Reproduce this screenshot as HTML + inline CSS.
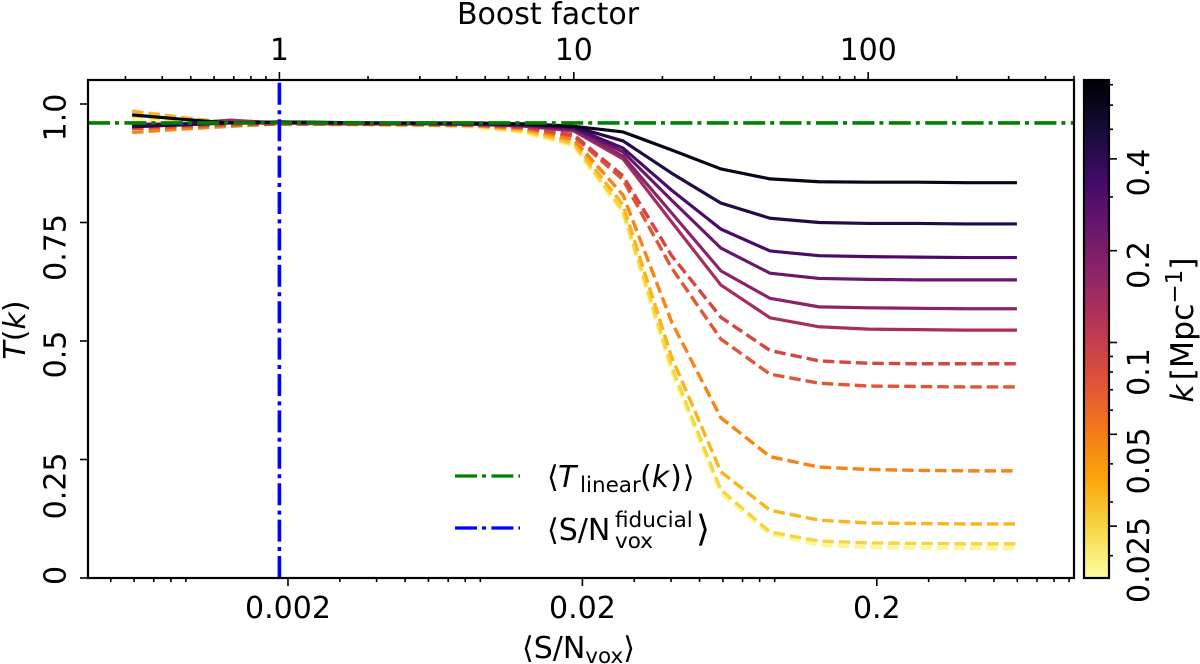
<!DOCTYPE html>
<html>
<head>
<meta charset="utf-8">
<style>
html,body{margin:0;padding:0;background:#fff;}
svg{display:block;}
text{font-family:"DejaVu Sans","Liberation Sans",sans-serif;font-size:30px;fill:#000;}
.it{font-style:italic;}
.sub{font-size:21.5px;}
</style>
</head>
<body>
<svg id="chart" xmlns="http://www.w3.org/2000/svg" width="1200" height="664" viewBox="0 0 1200 664">
  <defs>
    <linearGradient id="inferno-r" x1="0" y1="0" x2="0" y2="1">
      <stop offset="0" stop-color="#000004"/><stop offset="0.1" stop-color="#160b39"/>
      <stop offset="0.2" stop-color="#420a68"/><stop offset="0.3" stop-color="#6a176e"/>
      <stop offset="0.4" stop-color="#932667"/><stop offset="0.5" stop-color="#bc3754"/>
      <stop offset="0.6" stop-color="#dd513a"/><stop offset="0.7" stop-color="#f37819"/>
      <stop offset="0.8" stop-color="#fca50a"/><stop offset="0.9" stop-color="#f6d746"/>
      <stop offset="1" stop-color="#fcffa4"/>
    </linearGradient>
    <clipPath id="plot-clip"><rect x="88" y="80" width="986" height="498"/></clipPath>
  </defs>

  <g id="series-layer" clip-path="url(#plot-clip)"></g>
  <g id="reference-layer" clip-path="url(#plot-clip)"></g>
  <g id="tick-layer"></g>

  <rect x="88" y="80" width="986" height="498" fill="none" stroke="#000" stroke-width="2.2"/>

  <!-- top axis -->
  <text x="548" y="24" text-anchor="middle">Boost factor</text>
  <text x="279.4" y="60" text-anchor="middle">1</text>
  <text x="573.8" y="60" text-anchor="middle">10</text>
  <text x="868.2" y="60" text-anchor="middle">100</text>

  <!-- bottom axis -->
  <text x="288" y="618" text-anchor="middle">0.002</text>
  <text x="582.4" y="618" text-anchor="middle">0.02</text>
  <text x="876.8" y="618" text-anchor="middle">0.2</text>
  <text x="522" y="658">⟨S/N<tspan class="sub" dy="5">vox</tspan><tspan dy="-5">⟩</tspan></text>

  <!-- y axis -->
  <text transform="translate(65.5,117.5) rotate(-90)" text-anchor="middle">1.0</text>
  <text transform="translate(65.5,247.5) rotate(-90)" text-anchor="middle">0.75</text>
  <text transform="translate(65.5,354.5) rotate(-90)" text-anchor="middle">0.5</text>
  <text transform="translate(65.5,486) rotate(-90)" text-anchor="middle">0.25</text>
  <text transform="translate(65.5,575.5) rotate(-90)" text-anchor="middle">0</text>
  <text transform="translate(25,330) rotate(-90)" text-anchor="middle"><tspan class="it">T</tspan>(<tspan class="it">k</tspan>)</text>

  <!-- legend -->
  <g>
    <line x1="455" x2="520" y1="476" y2="476" stroke="#008000" stroke-width="3.2" stroke-dasharray="22,5,4,5.4"/>
    <text x="547" y="487">⟨<tspan class="it" x="558">T</tspan><tspan class="sub" x="580" y="492">linear</tspan><tspan x="640" y="487">(</tspan><tspan class="it">k</tspan><tspan dx="1">)</tspan><tspan dx="1">⟩</tspan></text>
    <line x1="455" x2="520" y1="528" y2="528" stroke="#0000ff" stroke-width="3.2" stroke-dasharray="22,5,4,5.4"/>
    <text x="547" y="540">⟨S/N<tspan class="sub" x="615" y="527">fiducial</tspan><tspan class="sub" x="615" y="548">vox</tspan><tspan x="696" y="541" style="font-size:36px">⟩</tspan></text>
  </g>

  <!-- colorbar -->
  <g>
    <rect x="1084" y="80" width="25" height="498" fill="url(#inferno-r)" stroke="#000" stroke-width="2.2"/>
    <text transform="translate(1149,172.5) rotate(-90)" text-anchor="middle">0.4</text>
    <text transform="translate(1149,265) rotate(-90)" text-anchor="middle">0.2</text>
    <text transform="translate(1149,372) rotate(-90)" text-anchor="middle">0.1</text>
    <text transform="translate(1149,461) rotate(-90)" text-anchor="middle">0.05</text>
    <text transform="translate(1149,560) rotate(-90)" text-anchor="middle">0.025</text>
    <text transform="translate(1193,330) rotate(-90)" text-anchor="middle" style="font-size:31.5px"><tspan class="it">k</tspan><tspan dx="4">[Mpc</tspan><tspan style="font-size:23px" dy="-11">−1</tspan><tspan dy="11">]</tspan></text>
  </g>
</svg>

<script>
// Data
var boostValues = [0.316,0.464,0.681,1,1.47,2.15,3.16,4.64,6.81,10,14.7,21.5,31.6,46.4,68.1,100,147,215,320];
var seriesK = [0.018,0.025,0.032,0.047,0.072,0.088,0.135,0.175,0.235,0.32,0.45,0.62];
var seriesDashed = [true,true,true,true,true,true,false,false,false,false,false,false];
var seriesWidths = [4.2,3.4,3.4,3.4,3.4,3.4,3.2,3.2,3.2,3.2,3.2,3.2];
var tPale    = [0.965,0.962,0.958,0.958,0.957,0.956,0.955,0.952,0.94,0.912,0.77,0.435,0.179,0.093,0.07,0.065,0.064,0.063,0.063];
var tYellow  = [0.975,0.966,0.958,0.958,0.957,0.956,0.955,0.953,0.942,0.915,0.774,0.445,0.186,0.097,0.078,0.074,0.073,0.072,0.072];
var tAmber   = [0.985,0.972,0.96,0.958,0.958,0.957,0.956,0.954,0.945,0.92,0.787,0.466,0.224,0.143,0.122,0.116,0.115,0.114,0.114];
var tOrange  = [0.94,0.947,0.953,0.958,0.958,0.957,0.956,0.955,0.948,0.925,0.808,0.54,0.338,0.256,0.234,0.229,0.227,0.226,0.226];
var tRedOr   = [0.948,0.952,0.956,0.958,0.958,0.957,0.957,0.955,0.95,0.932,0.84,0.654,0.504,0.43,0.411,0.405,0.404,0.403,0.403];
var tRed     = [0.952,0.954,0.958,0.958,0.958,0.958,0.957,0.956,0.951,0.935,0.848,0.68,0.55,0.48,0.458,0.453,0.452,0.452,0.452];
var tCrimson = [0.957,0.958,0.966,0.96,0.958,0.958,0.958,0.957,0.953,0.943,0.884,0.751,0.618,0.549,0.53,0.525,0.524,0.523,0.523];
var tMagenta = [0.957,0.958,0.962,0.96,0.959,0.958,0.958,0.957,0.954,0.945,0.89,0.77,0.648,0.59,0.572,0.57,0.569,0.568,0.568];
var tPurple  = [0.957,0.958,0.96,0.961,0.96,0.959,0.958,0.958,0.955,0.948,0.899,0.797,0.696,0.643,0.632,0.63,0.629,0.629,0.629];
var tViolet  = [0.955,0.957,0.96,0.961,0.96,0.96,0.959,0.958,0.956,0.95,0.907,0.818,0.736,0.69,0.68,0.678,0.677,0.676,0.676];
var tNavy    = [0.952,0.956,0.96,0.962,0.961,0.96,0.96,0.959,0.957,0.952,0.922,0.854,0.791,0.759,0.75,0.748,0.748,0.747,0.747];
var tBlack   = [0.977,0.968,0.96,0.962,0.961,0.96,0.96,0.96,0.958,0.953,0.941,0.903,0.863,0.842,0.836,0.835,0.835,0.834,0.834];
var seriesValues = [tPale,tYellow,tAmber,tOrange,tRedOr,tRed,tCrimson,tMagenta,tPurple,tViolet,tNavy,tBlack];
var seriesIds = ['pale','yellow','amber','orange','red-orange','red','crimson','magenta','purple','violet','navy','black'];
var linearT = [0.96];
var fiducialBoost = [1];
var yTicks = [0,0.25,0.5,0.75,1];
var topMajorTicks = [1,10,100];
var topMinorTicks = [0.3,0.4,0.5,0.6,0.7,0.8,0.9,2,3,4,5,6,7,8,9,20,30,40,50,60,70,80,90,200,300,400,500];
var bottomMajorTicks = [0.002,0.02,0.2];
var bottomMinorTicks = [0.0005,0.0006,0.0007,0.0008,0.0009,0.003,0.004,0.005,0.006,0.007,0.008,0.009,0.03,0.04,0.05,0.06,0.07,0.08,0.09,0.3,0.4,0.5,0.6,0.7,0.8,0.9];
var colorbarMajorTicks = [0.025,0.05,0.1,0.2,0.4];
var colorbarMinorTicks = [0.02,0.03,0.04,0.06,0.07,0.08,0.09,0.3,0.5,0.6,0.7];
var infernoStops = ['#000004','#160b39','#420a68','#6a176e','#932667','#bc3754','#dd513a','#f37819','#fca50a','#f6d746','#fcffa4'];

// Axis functions
function xTop(b){ return 279.4 + 294.4 * Math.log10(b); }
function xBottom(v){ return 288 + 294.4 * Math.log10(v / 0.002); }
function yT(t){ return 578 - 474 * t; }
function yK(k){ return 342.5 - 305.0 * Math.log10(k / 0.1); }
function colorForK(k){
  var f = (yK(k) - 80) / 498;
  f = Math.max(0, Math.min(1, f));
  var p = f * (infernoStops.length - 1);
  var i = Math.min(Math.floor(p), infernoStops.length - 2);
  var u = p - i;
  var a = infernoStops[i], b = infernoStops[i + 1];
  var out = [1, 3, 5].map(function (s) {
    var ca = parseInt(a.substr(s, 2), 16), cb = parseInt(b.substr(s, 2), 16);
    return Math.round(ca + (cb - ca) * u);
  });
  return 'rgb(' + out.join(',') + ')';
}

var NS = 'http://www.w3.org/2000/svg';
var seriesLayer = document.getElementById('series-layer');
var referenceLayer = document.getElementById('reference-layer');
var tickLayer = document.getElementById('tick-layer');

seriesValues.forEach(function (vals, s) {
  var pts = vals.map(function (t, i) {
    return xTop(boostValues[i]).toFixed(2) + ',' + yT(t).toFixed(2);
  }).join(' ');
  var line = document.createElementNS(NS, 'polyline');
  
  
  line.setAttribute('points', pts);
  line.setAttribute('fill', 'none');
  line.setAttribute('stroke', colorForK(seriesK[s]));
  line.setAttribute('stroke-width', seriesWidths[s]);
  line.setAttribute('stroke-linejoin', 'round');
  if (seriesDashed[s]) {
    line.setAttribute('stroke-dasharray', '11.5,5');
  }
  seriesLayer.appendChild(line);
});

var greenLine = document.createElementNS(NS, 'line');


greenLine.setAttribute('x1', 88);
greenLine.setAttribute('x2', 1074);
greenLine.setAttribute('y1', yT(linearT[0]));
greenLine.setAttribute('y2', yT(linearT[0]));
greenLine.setAttribute('stroke', '#008000');
greenLine.setAttribute('stroke-width', '3.6');
greenLine.setAttribute('stroke-dasharray', '22,5,4,5.4');
referenceLayer.appendChild(greenLine);

var blueLine = document.createElementNS(NS, 'line');


blueLine.setAttribute('x1', xTop(fiducialBoost[0]));
blueLine.setAttribute('x2', xTop(fiducialBoost[0]));
blueLine.setAttribute('y1', 578);
blueLine.setAttribute('y2', 80);
blueLine.setAttribute('stroke', '#0000ff');
blueLine.setAttribute('stroke-width', '3.6');
blueLine.setAttribute('stroke-dasharray', '22,5,4,5.4');
referenceLayer.appendChild(blueLine);

function addTick(name, x1, y1, x2, y2) {
  var t = document.createElementNS(NS, 'line');
  
  
  t.setAttribute('x1', x1);
  t.setAttribute('y1', y1);
  t.setAttribute('x2', x2);
  t.setAttribute('y2', y2);
  t.setAttribute('stroke', '#000');
  t.setAttribute('stroke-width', '1.6');
  tickLayer.appendChild(t);
}
yTicks.forEach(function (v) { addTick('y-tick', 80, yT(v), 88, yT(v)); });
topMajorTicks.forEach(function (v) { addTick('top-major-tick', xTop(v), 72, xTop(v), 80); });
topMinorTicks.forEach(function (v) { addTick('top-minor-tick', xTop(v), 76, xTop(v), 80); });
bottomMajorTicks.forEach(function (v) { addTick('x-major-tick', xBottom(v), 578, xBottom(v), 586); });
bottomMinorTicks.forEach(function (v) { addTick('x-minor-tick', xBottom(v), 578, xBottom(v), 582); });
colorbarMajorTicks.forEach(function (v) { addTick('colorbar-major-tick', 1109, yK(v), 1117, yK(v)); });
colorbarMinorTicks.forEach(function (v) { addTick('colorbar-minor-tick', 1109, yK(v), 1113, yK(v)); });
</script>
</body>
</html>
